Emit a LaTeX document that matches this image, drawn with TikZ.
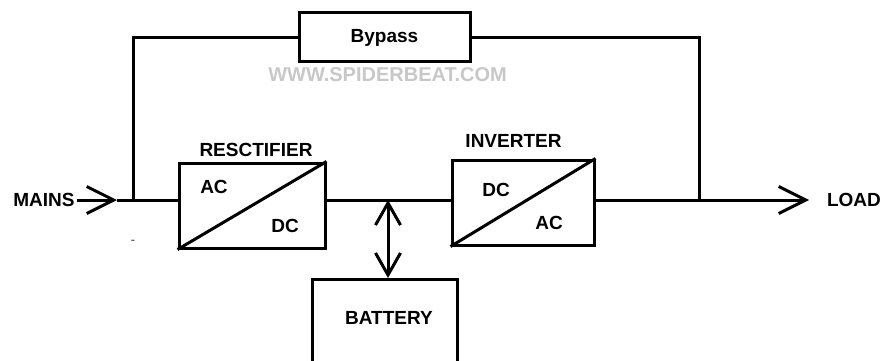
\documentclass[tikz,border=0pt]{standalone}
\usepackage{fontspec}
\setmainfont{Liberation Sans}
\usepackage{xcolor}
\usepackage{tikz}
\usetikzlibrary{arrows.meta, positioning}
\definecolor{WireBlack}{HTML}{000000}
\definecolor{MarkGray}{HTML}{C8C8C8}
\definecolor{DotGray}{HTML}{505050}

\begin{document}
\begin{tikzpicture}[
  x=1pt, y=-1pt,
  block/.style={rectangle, draw=WireBlack, line width=3pt, fill=white,
    inner sep=0pt},
  lbl/.style={font=\fontsize{19}{21}\selectfont\bfseries, text=WireBlack,
    inner sep=2pt},
  wire/.style={line width=3pt, color=WireBlack},
  arrow/.style={-{Straight Barb[length=27pt, width=27pt, line width=3pt]},
    line width=3pt, color=WireBlack},
  dblarrow/.style={{Straight Barb[length=22pt, width=25pt, line width=3pt]}-{Straight Barb[length=22pt, width=25pt, line width=3pt]},
    line width=3pt, color=WireBlack}
]
\useasboundingbox (0,0) rectangle (883,361);
\clip (0,0) rectangle (883,361);
\fill[white] (0,0) rectangle (883,361);

%% Main blocks
\node[block, minimum width=146pt, minimum height=85pt] (rect) at (252,205.5) {};
\node[block, minimum width=142pt, minimum height=85pt] (inv)  at (523,202.5) {};
\node[block, minimum width=171pt, minimum height=49pt] (bypass) at (384.5,37.5) {};
\node[block, minimum width=145pt, minimum height=110pt, anchor=north] (battery) at (384.5,278) {};

%% Block texts
\node[lbl] (bypasstxt) at (bypass.center) {Bypass};
\node[lbl] (batterytxt) at (389,318) {BATTERY};
\node[lbl] (recttxt) at (256,150) {RESCTIFIER};
\node[lbl] (invtxt)  at (513.5,141) {INVERTER};
\node[lbl] (rectac) at (214,187) {AC};
\node[lbl] (rectdc) at (285,226) {DC};
\node[lbl] (invdc)  at (496,190) {DC};
\node[lbl] (invac)  at (549,223) {AC};

%% Terminals
\node[lbl] (mains) at (44,200) {MAINS};
\node[lbl] (load)  at (854,200) {LOAD};
\node[font=\fontsize{20}{22}\selectfont\bfseries, text=MarkGray] (site) at (387.5,75) {WWW.SPIDERBEAT.COM};
\node[font=\fontsize{14}{14}\selectfont, text=DotGray, inner sep=0pt] (dash) at (133,242) {-};

%% Junctions
\coordinate (mainstip) at (117,200);
\coordinate (mainsjn)  at (133,200);
\coordinate (battjn)   at (388,200);
\coordinate (loadjn)   at (699,200);
\coordinate (loadtip)  at (809,200);

%% Converter diagonals
\draw[wire] (rect.south west) -- (rect.north east);
\draw[wire] (inv.south west) -- (inv.north east);

%% Wires
\draw[arrow] (mains.east) -- (mainstip);
\draw[wire] (mainstip) -- (rect.west |- mainstip);
\draw[wire] (rect.east |- battjn) -- (inv.west |- battjn);
\draw[arrow] (inv.east |- loadjn) -- (loadtip);
\draw[wire] (mainsjn) |- (bypass.west);
\draw[wire] (bypass.east) -| (loadjn);
\draw[dblarrow] (battjn) -- (battjn |- battery.north);

\end{tikzpicture}
\end{document}
